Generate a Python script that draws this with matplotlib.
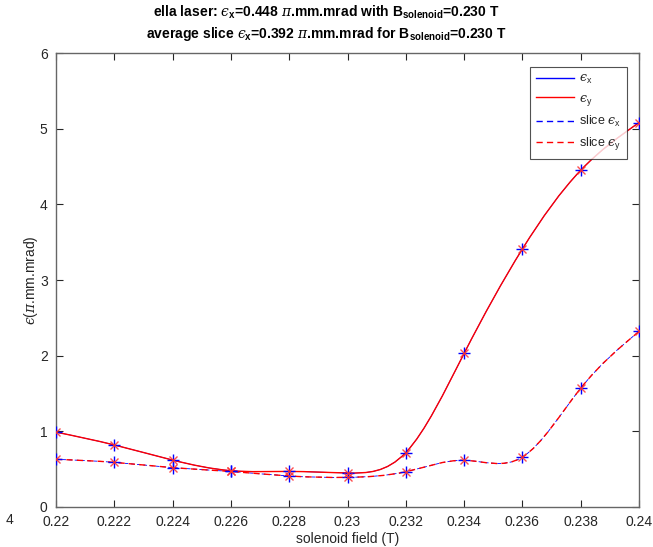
import matplotlib
matplotlib.use("Agg")
import matplotlib.pyplot as plt
import numpy as np
from matplotlib.path import Path
from matplotlib.patches import PathPatch

# solenoid field (T)
b_field = [0.220, 0.222, 0.224, 0.226, 0.228, 0.230, 0.232, 0.234, 0.236, 0.238, 0.240]
# projected emittance (pi.mm.mrad); x and y coincide
eps_x = [0.99, 0.82, 0.62, 0.48, 0.47, 0.45, 0.72, 2.03, 3.41, 4.45, 5.08]
eps_y = eps_x
# average slice emittance
slice_x = [0.63, 0.59, 0.52, 0.47, 0.41, 0.392, 0.466, 0.617, 0.66, 1.57, 2.32]
slice_y = slice_x

x_ticks = [0.22, 0.222, 0.224, 0.226, 0.228, 0.23, 0.232, 0.234, 0.236, 0.238, 0.24]
x_tick_labels = ["0.22", "0.222", "0.224", "0.226", "0.228", "0.23",
                 "0.232", "0.234", "0.236", "0.238", "0.24"]
y_ticks = [0, 1, 2, 3, 4, 5, 6]

DASH = (0, (4.5, 3.0))
EPS = "\u03f5"  # lunate epsilon, as TeX \epsilon


def spline_path(xs, ys):
    # natural cubic spline written as bezier segments, drawn in data coords
    x = np.asarray(xs, float)
    y = np.asarray(ys, float)
    n = len(x)
    h = np.diff(x)
    a = np.zeros((n, n))
    r = np.zeros(n)
    a[0, 0] = a[-1, -1] = 1.0
    for i in range(1, n - 1):
        a[i, i - 1] = h[i - 1]
        a[i, i] = 2 * (h[i - 1] + h[i])
        a[i, i + 1] = h[i]
        r[i] = 3 * ((y[i + 1] - y[i]) / h[i] - (y[i] - y[i - 1]) / h[i - 1])
    c = np.linalg.solve(a, r)
    verts = [(x[0], y[0])]
    codes = [Path.MOVETO]
    for i in range(n - 1):
        b = (y[i + 1] - y[i]) / h[i] - h[i] * (2 * c[i] + c[i + 1]) / 3
        d1 = b
        d2 = b + 2 * c[i] * h[i] + (c[i + 1] - c[i]) * h[i]
        verts += [(x[i] + h[i] / 3, y[i] + d1 * h[i] / 3),
                  (x[i + 1] - h[i] / 3, y[i + 1] - d2 * h[i] / 3),
                  (x[i + 1], y[i + 1])]
        codes += [Path.CURVE4] * 3
    return Path(verts, codes)


def main():
    plt.rcParams["font.family"] = ["Liberation Sans", "DejaVu Sans"]
    plt.rcParams["mathtext.fontset"] = "custom"
    plt.rcParams["mathtext.rm"] = "Liberation Sans"
    plt.rcParams["mathtext.it"] = "DejaVu Serif:italic"
    plt.rcParams["mathtext.bf"] = "Liberation Sans:bold"
    text_col = "#262626"

    fig = plt.figure(figsize=(6.53, 5.47), dpi=100)
    ax = fig.add_axes([56 / 653, 40 / 547, 583 / 653, 454 / 547])

    series = [
        (eps_x, "blue", "-", rf"${EPS}_{{\rm x}}$"),
        (eps_y, "red", "-", rf"${EPS}_{{\rm y}}$"),
        (slice_x, "blue", DASH, rf"slice ${EPS}_{{\rm x}}$"),
        (slice_y, "red", DASH, rf"slice ${EPS}_{{\rm y}}$"),
    ]
    handles = []
    for vals, col, ls, lab in series:
        is_red = col == "red"
        patch = PathPatch(spline_path(b_field, vals), facecolor="none",
                          edgecolor=col, linestyle=ls,
                          linewidth=1.0 if is_red else 0.6,
                          zorder=3 if is_red else 2)
        ax.add_patch(patch)
        h, = ax.plot([], [], color=col, linestyle=ls, linewidth=1.0, label=lab)
        handles.append(h)

    for vals in (eps_x, slice_x):
        ax.plot(b_field, vals, linestyle="none", marker="+", color="blue",
                markersize=8, markeredgewidth=1.0, zorder=4)
        ax.plot(b_field, vals, linestyle="none", marker="x", color="#ff3030",
                markersize=5.5, markeredgewidth=1.0, alpha=0.85, zorder=5)

    ax.set_xlim(0.22, 0.24)
    ax.set_ylim(0, 6)
    ax.set_xticks(x_ticks)
    ax.set_xticklabels(x_tick_labels)
    ax.set_yticks(y_ticks)
    ax.tick_params(direction="in", length=5, width=0.8, top=True, right=True,
                   labelsize=10, colors=text_col, pad=6)
    for s in ax.spines.values():
        s.set_color("#666666")
        s.set_linewidth(1.0)

    ax.set_xlabel("solenoid field (T)", fontsize=10, color=text_col, labelpad=2)
    ax.set_ylabel(rf"${EPS}$($\pi$.mm.mrad)", fontsize=10, color=text_col, labelpad=0)

    fig.text(0.5, 1 - 12 / 547,
             rf"ella laser: ${EPS}_{{\bf x}}$=0.448 $\pi$.mm.mrad with B$_{{\bf solenoid}}$=0.230 T",
             ha="center", va="center", fontsize=10, fontweight="bold", color="black")
    fig.text(0.5, 1 - 34 / 547,
             rf"average slice ${EPS}_{{\bf x}}$=0.392 $\pi$.mm.mrad for B$_{{\bf solenoid}}$=0.230 T",
             ha="center", va="center", fontsize=10, fontweight="bold", color="black")
    fig.text(10 / 653, 1 - 520 / 547, "4", ha="center", va="center",
             fontsize=10, color=text_col)

    leg = ax.legend(handles=handles, loc="upper right", bbox_to_anchor=(0.979, 0.969),
                    borderaxespad=0, fontsize=9, frameon=True, fancybox=False,
                    handlelength=3.0, handletextpad=0.4, labelspacing=0.5,
                    borderpad=0.5)
    leg.get_frame().set_edgecolor("#262626")
    leg.get_frame().set_linewidth(0.8)
    for t in leg.get_texts():
        t.set_color(text_col)

    fig.savefig("out.png", dpi=100)


if __name__ == "__main__":
    main()
